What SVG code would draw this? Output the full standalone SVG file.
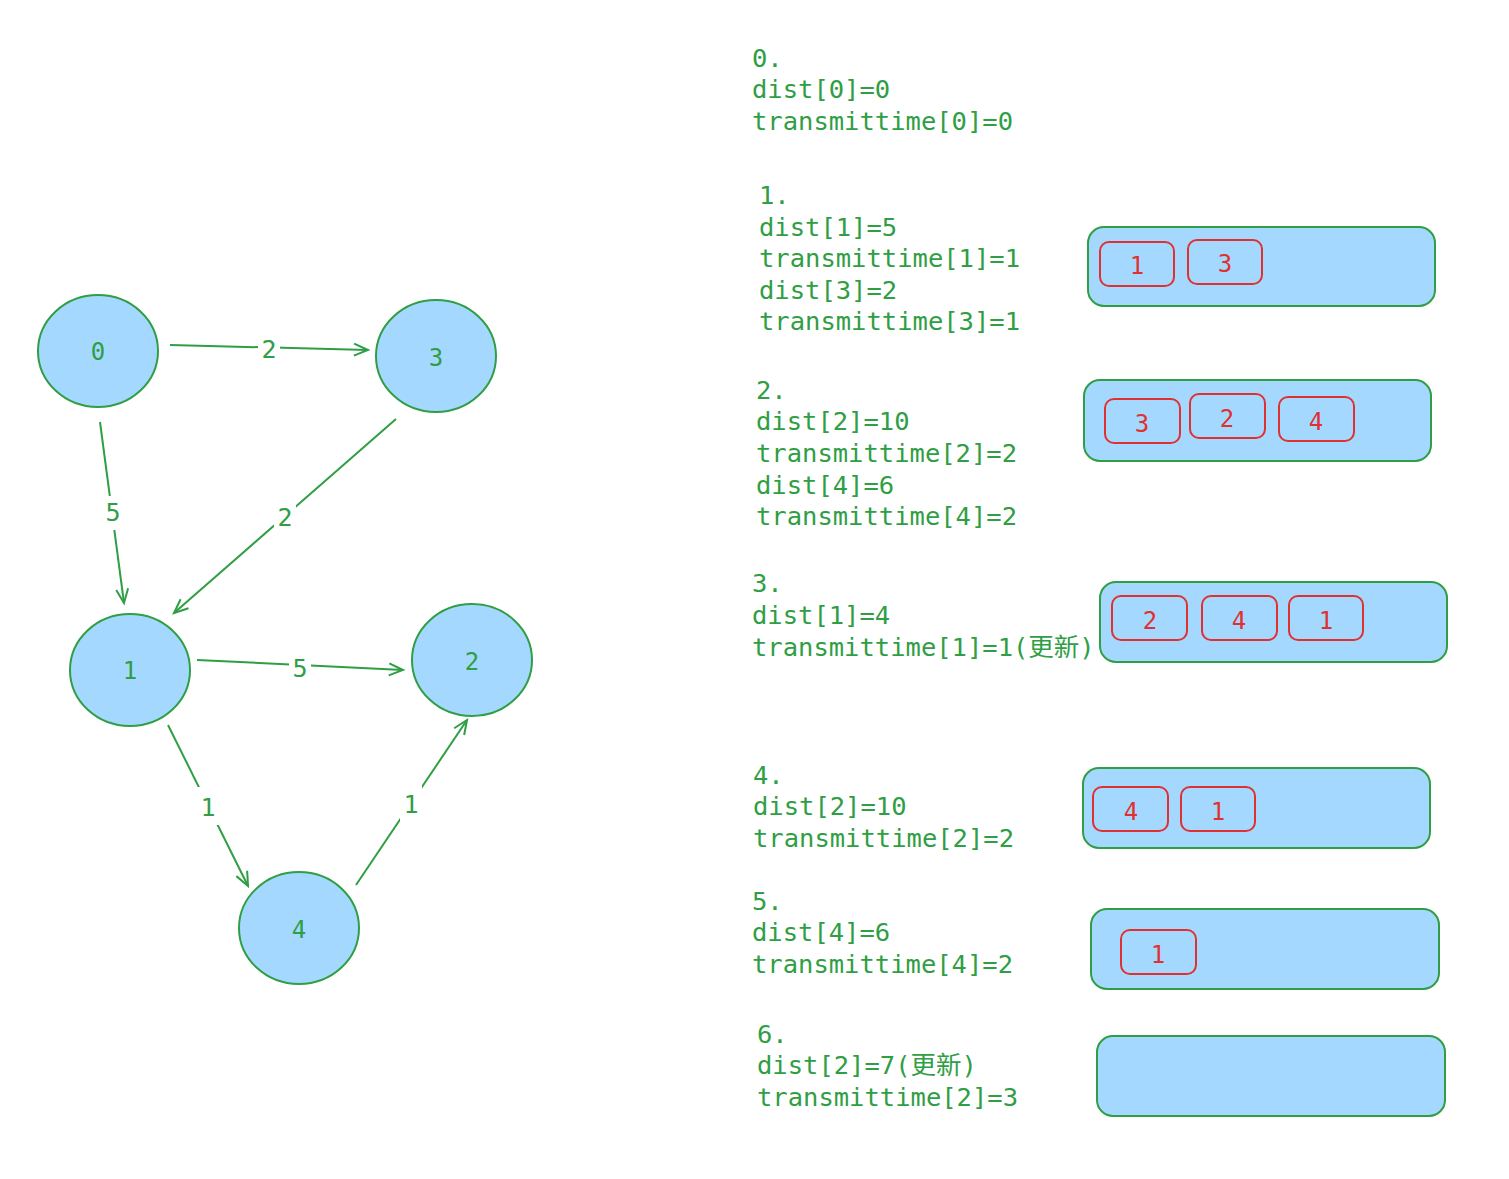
<svg xmlns="http://www.w3.org/2000/svg" width="1509" height="1179" viewBox="0 0 1509 1179">
<style>
.node{fill:#a5d8ff;stroke:#2f9e44;stroke-width:2}
.nl{font-family:"DejaVu Sans Mono","Liberation Mono",monospace;font-size:24px;fill:#2f9e44;text-anchor:middle}
.edge{stroke:#2f9e44;stroke-width:2;fill:none}
.el{font-family:"DejaVu Sans Mono","Liberation Mono",monospace;font-size:25px;fill:#2f9e44;text-anchor:middle}
.lbg{fill:#ffffff}
.txt{font-family:"DejaVu Sans Mono","Liberation Mono","Noto Sans CJK SC",monospace;font-size:25.5px;fill:#2f9e44}
.q{fill:#a5d8ff;stroke:#2f9e44;stroke-width:2}
.it{fill:none;stroke:#e03131;stroke-width:2}
.il{font-family:"DejaVu Sans Mono","Liberation Mono",monospace;font-size:24px;fill:#e03131;text-anchor:middle}
</style>
<defs>
<marker id="arr" markerWidth="20" markerHeight="20" refX="16" refY="8" orient="auto" markerUnits="userSpaceOnUse">
<path d="M2,2 L16,8 L2,14" fill="none" stroke="#2f9e44" stroke-width="2"/>
</marker>
</defs>

<g id="connectors">
<g id="e03"><line class="edge" x1="170" y1="345" x2="368" y2="350" marker-end="url(#arr)"/><rect class="lbg" x="258" y="334" width="22" height="28"/><text class="el" x="269" y="358">2</text></g>
<g id="e01"><line class="edge" x1="100" y1="422" x2="124" y2="603" marker-end="url(#arr)"/><rect class="lbg" x="102" y="496" width="22" height="34"/><text class="el" x="113" y="521">5</text></g>
<g id="e31"><line class="edge" x1="396" y1="419" x2="174" y2="613" marker-end="url(#arr)"/><rect class="lbg" x="274" y="500" width="22" height="34"/><text class="el" x="285" y="526">2</text></g>
<g id="e12"><line class="edge" x1="197" y1="660" x2="403" y2="670" marker-end="url(#arr)"/><rect class="lbg" x="289" y="653" width="22" height="28"/><text class="el" x="300" y="677">5</text></g>
<g id="e14"><line class="edge" x1="168" y1="725" x2="248" y2="886" marker-end="url(#arr)"/><rect class="lbg" x="197" y="787" width="22" height="38"/><text class="el" x="208" y="816">1</text></g>
<g id="e42"><line class="edge" x1="356" y1="885" x2="467" y2="720" marker-end="url(#arr)"/><rect class="lbg" x="400" y="785" width="22" height="38"/><text class="el" x="411" y="813">1</text></g>
</g>

<g id="node0"><ellipse class="node" cx="98" cy="351" rx="60" ry="56"/><text class="nl" x="98" y="360">0</text></g>
<g id="node3"><ellipse class="node" cx="436" cy="356" rx="60" ry="56"/><text class="nl" x="436" y="366">3</text></g>
<g id="node1"><ellipse class="node" cx="130" cy="670" rx="60" ry="56"/><text class="nl" x="130" y="679">1</text></g>
<g id="node2"><ellipse class="node" cx="472" cy="660" rx="60" ry="56"/><text class="nl" x="472" y="670">2</text></g>
<g id="node4"><ellipse class="node" cx="299" cy="928" rx="60" ry="56"/><text class="nl" x="299" y="938">4</text></g>

<g id="step0">
<text class="txt" x="752" y="67">0.</text>
<text class="txt" x="752" y="98">dist[0]=0</text>
<text class="txt" x="752" y="130">transmittime[0]=0</text>
</g>
<g id="step1">
<text class="txt" x="759" y="204">1.</text>
<text class="txt" x="759" y="236">dist[1]=5</text>
<text class="txt" x="759" y="267">transmittime[1]=1</text>
<text class="txt" x="759" y="299">dist[3]=2</text>
<text class="txt" x="759" y="330">transmittime[3]=1</text>
</g>
<g id="step2">
<text class="txt" x="756" y="399">2.</text>
<text class="txt" x="756" y="430">dist[2]=10</text>
<text class="txt" x="756" y="462">transmittime[2]=2</text>
<text class="txt" x="756" y="494">dist[4]=6</text>
<text class="txt" x="756" y="525">transmittime[4]=2</text>
</g>
<g id="step3">
<text class="txt" x="752" y="592">3.</text>
<text class="txt" x="752" y="624">dist[1]=4</text>
<text class="txt" x="752" y="656">transmittime[1]=1(更新)</text>
</g>
<g id="step4">
<text class="txt" x="753" y="784">4.</text>
<text class="txt" x="753" y="815">dist[2]=10</text>
<text class="txt" x="753" y="847">transmittime[2]=2</text>
</g>
<g id="step5">
<text class="txt" x="752" y="910">5.</text>
<text class="txt" x="752" y="941">dist[4]=6</text>
<text class="txt" x="752" y="973">transmittime[4]=2</text>
</g>
<g id="step6">
<text class="txt" x="757" y="1043">6.</text>
<text class="txt" x="757" y="1074">dist[2]=7(更新)</text>
<text class="txt" x="757" y="1106">transmittime[2]=3</text>
</g>

<g id="queue1">
<rect class="q" x="1088" y="227" width="347" height="79" rx="16"/>
<rect class="it" x="1100" y="242" width="74" height="44" rx="9"/><text class="il" x="1137" y="274">1</text>
<rect class="it" x="1188" y="240" width="74" height="44" rx="9"/><text class="il" x="1225" y="272">3</text>
</g>
<g id="queue2">
<rect class="q" x="1084" y="380" width="347" height="81" rx="16"/>
<rect class="it" x="1105" y="399" width="75" height="44" rx="9"/><text class="il" x="1142" y="432">3</text>
<rect class="it" x="1190" y="394" width="75" height="44" rx="9"/><text class="il" x="1227" y="427">2</text>
<rect class="it" x="1279" y="397" width="75" height="44" rx="9"/><text class="il" x="1316" y="430">4</text>
</g>
<g id="queue3">
<rect class="q" x="1100" y="582" width="347" height="80" rx="16"/>
<rect class="it" x="1112" y="596" width="75" height="44" rx="9"/><text class="il" x="1150" y="629">2</text>
<rect class="it" x="1202" y="596" width="75" height="44" rx="9"/><text class="il" x="1239" y="629">4</text>
<rect class="it" x="1289" y="596" width="74" height="44" rx="9"/><text class="il" x="1326" y="629">1</text>
</g>
<g id="queue4">
<rect class="q" x="1083" y="768" width="347" height="80" rx="16"/>
<rect class="it" x="1093" y="787" width="75" height="44" rx="9"/><text class="il" x="1131" y="820">4</text>
<rect class="it" x="1181" y="787" width="74" height="44" rx="9"/><text class="il" x="1218" y="820">1</text>
</g>
<g id="queue5">
<rect class="q" x="1091" y="909" width="348" height="80" rx="16"/>
<rect class="it" x="1121" y="930" width="75" height="44" rx="9"/><text class="il" x="1158" y="963">1</text>
</g>
<g id="queue6">
<rect class="q" x="1097" y="1036" width="348" height="80" rx="16"/>
</g>
</svg>
